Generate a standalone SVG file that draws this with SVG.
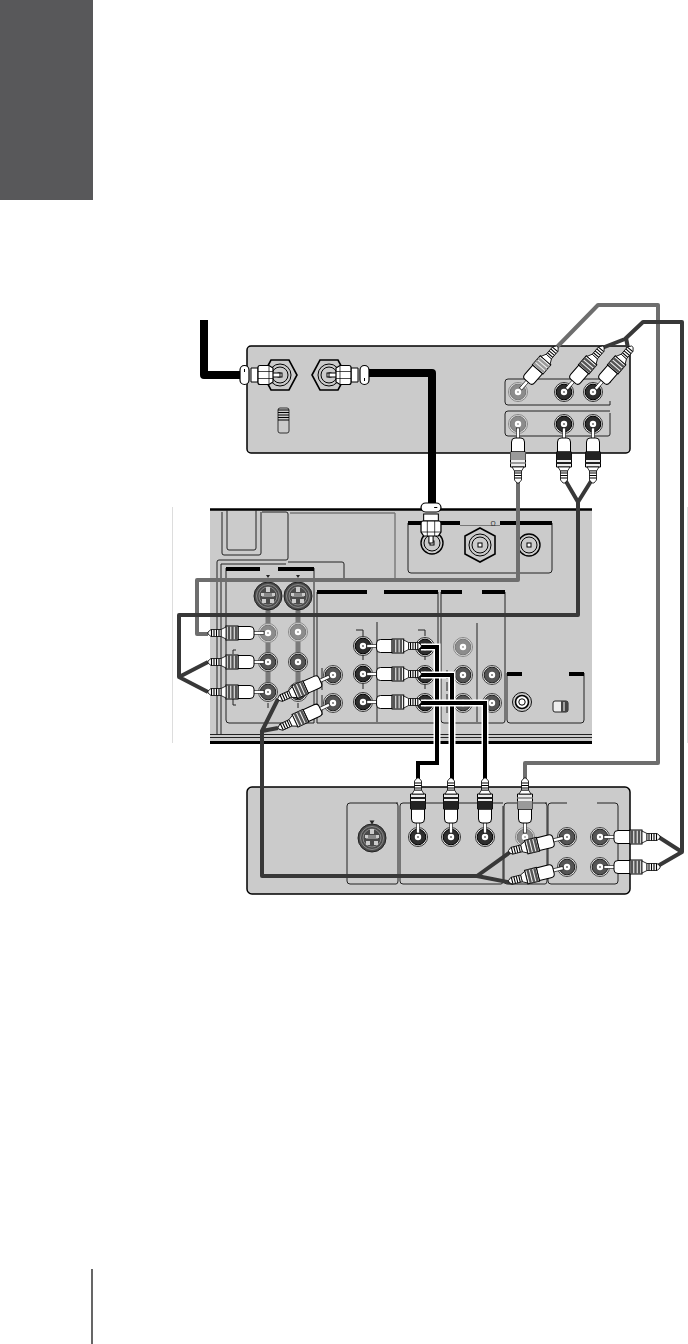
<svg xmlns="http://www.w3.org/2000/svg" width="688" height="1344" viewBox="0 0 688 1344">
<style>
.panel{fill:#cbcbcb;stroke:#000;stroke-width:1.5}
.box{fill:none;stroke:#222;stroke-width:1}
.bar{fill:none;stroke:#000;stroke-width:4}
.g{fill:none;stroke:#6e6e6e;stroke-width:4;stroke-linejoin:round}
.d{fill:none;stroke:#383838;stroke-width:4;stroke-linejoin:round}
.k{fill:none;stroke:#000;stroke-width:8;stroke-linejoin:round}
.h{fill:none;stroke:#fff;stroke-width:7;stroke-linejoin:miter}
.t{fill:none;stroke:#000;stroke-width:4;stroke-linejoin:miter}
.gbar{stroke:#7a7a7a;stroke-width:5;fill:none}
</style>
<defs>
<g id="jack"><circle r="9.5" fill="#e4e4e4" stroke="#333" stroke-width="1"/><circle r="7.8" fill="#2e2e2e" stroke="#000" stroke-width="1"/><circle r="3.2" fill="#fff"/><circle r="1.1" fill="#777"/></g>
<g id="jack-mid"><circle r="9.5" fill="#e4e4e4" stroke="#444" stroke-width="1"/><circle r="7.8" fill="#555" stroke="#222" stroke-width="1"/><circle r="3.2" fill="#fff"/><circle r="1.1" fill="#777"/></g>
<g id="jack-light"><circle r="9.5" fill="#ddd" stroke="#888" stroke-width="1"/><circle r="7.8" fill="#8c8c8c" stroke="#777" stroke-width="1"/><circle r="3.2" fill="#fff"/><circle r="1.1" fill="#aaa"/></g>
<g id="jack-white"><circle r="9.5" fill="#cbcbcb" stroke="#111" stroke-width="1"/><circle r="6.5" fill="#fff" stroke="#000" stroke-width="1.6"/><circle r="3.2" fill="#fff" stroke="#000" stroke-width="1"/></g>
<g id="svideo"><circle r="14" fill="#4a4a4a" stroke="#222" stroke-width="1"/><circle r="11.5" fill="none" stroke="#999" stroke-width=".8"/><circle r="9" fill="none" stroke="#999" stroke-width=".8"/><rect x="-6" y="-3" width="12" height="4" fill="#888"/><rect x="-7" y="-3" width="3" height="3" fill="#ccc"/><rect x="4" y="-3" width="3" height="3" fill="#ccc"/><rect x="-6" y="3" width="4" height="4" fill="#ccc"/><rect x="2" y="3" width="4" height="4" fill="#ccc"/><rect x="-2" y="-9" width="4" height="5" fill="#ccc"/></g>
<g id="coax"><circle r="11" fill="#cbcbcb" stroke="#000" stroke-width="1.4"/><circle r="8" fill="#cbcbcb" stroke="#000" stroke-width="1"/><rect x="-2" y="-2" width="4" height="4" fill="#fff" stroke="#000"/></g>
<g id="hex"><polygon points="-17,0 -9,-15 9,-15 17,0 9,15 -9,15" fill="#cbcbcb" stroke="#000" stroke-width="1.6"/><circle r="11" fill="#cbcbcb" stroke="#000" stroke-width="1"/><circle r="8" fill="#cbcbcb" stroke="#000" stroke-width="1"/><rect x="-2" y="-2" width="4" height="4" fill="#fff" stroke="#000"/></g>
<g id="plug">
<rect x="4" y="-1.6" width="11" height="3.2" fill="#fff" stroke="#000" stroke-width=".6"/>
<path d="M30,-6.500H18Q14,-6.500 14,-3V3Q14,6.500 18,6.500H30Z" fill="#fff" stroke="#000" stroke-width="1"/>
<rect x="30" y="-7" width="12" height="14" fill="#eee" stroke="#000" stroke-width="1"/>
<path d="M32,-7V7M35.500,-7V7M39,-7V7" stroke="currentColor" stroke-width="2.4" fill="none"/>
<path d="M42,-6L47,-3.500V3.500L42,6Z" fill="#fff" stroke="#000" stroke-width=".8"/>
<path d="M47,-3.500H57L60,-1V1L57,3.500H47Z" fill="#fff" stroke="#000" stroke-width=".8"/>
<path d="M49,-3.500V3.500M51.500,-3.500V3.500M54,-3.500V3.500M56.500,-3.500V3.500" stroke="#000" stroke-width="1.1" fill="none"/>
</g>
<g id="plug-solid">
<rect x="4" y="-1.6" width="11" height="3.2" fill="#fff" stroke="#000" stroke-width=".6"/>
<path d="M28,-6.500H18Q14,-6.500 14,-3V3Q14,6.500 18,6.500H28Z" fill="#fff" stroke="#000" stroke-width="1"/>
<path d="M28,-7.500H43V7.500H28Z" fill="#eee" stroke="#000" stroke-width="1"/>
<rect x="28" y="-7.500" width="8" height="15" fill="currentColor"/>
<path d="M39,-7.500V7.500" stroke="currentColor" stroke-width="2"/>
<path d="M43,-6L47,-3.500V3.500L43,6Z" fill="#fff" stroke="#000" stroke-width=".8"/>
<path d="M47,-3.500H56L59,-1V1L56,3.500H47Z" fill="#fff" stroke="#000" stroke-width=".8"/>
<path d="M49,-3.500V3.500M51.500,-3.500V3.500M54,-3.500V3.500" stroke="#000" stroke-width="1.1" fill="none"/>
</g>
<g id="coaxplug">
<rect x="0" y="-2" width="8" height="4" fill="#fff" stroke="#000" stroke-width="1"/>
<path d="M22,-7H29V7H22Z" fill="#fff" stroke="#000" stroke-width="1"/>
<path d="M7,-7L11,-9.500H20Q22,-9.500 22,-7.500V7.500Q22,9.500 20,9.500H11L7,7Z" fill="#fff" stroke="#000" stroke-width="1.2"/>
<path d="M11,-9.500V9.500M7,-3.500H22M7,3.500H22" stroke="#000" stroke-width=".7" fill="none"/>
<rect x="31" y="-9.500" width="9" height="19" rx="4.500" fill="#fff" stroke="#000" stroke-width="1.2"/>
<path d="M35.500,3V6" stroke="#000"/>
</g>
</defs>

<rect id="sidebar" x="0" y="0" width="93" height="200" fill="#58585a"/>
<path id="page-rule" d="M92,1269V1344" stroke="#000" stroke-width="1.2"/>
<path id="crop-marks" d="M172.500,507V743M687.500,507V743" stroke="#ddd" stroke-width="1"/>

<g id="top-device">
<rect class="panel" x="247" y="346" width="383" height="107" rx="4"/>
<path class="box" d="M610,379H508Q505,379 505,382V402Q505,405 508,405H610M610,411H508Q505,411 505,414V433Q505,436 508,436H608Q610,436 610,434V413"/>
<path d="M610,379V383M610,401V405" class="box"/>
<use href="#hex" x="280" y="375"/><use href="#hex" x="329" y="375"/>
<rect x="278" y="408" width="11" height="25" rx="2" fill="#cbcbcb" stroke="#333"/>
<path d="M278,410H289M278,412.500H289M278,415H289M278,417.500H289M278,420H289" stroke="#000" stroke-width="1"/>
<use href="#jack-light" x="518" y="392"/><use href="#jack" x="564" y="392"/><use href="#jack" x="593" y="392"/>
<use href="#jack-light" x="518" y="424"/><use href="#jack" x="564" y="424"/><use href="#jack" x="593" y="424"/>
</g>

<g id="av-panel">
<rect x="210" y="510" width="382" height="232" fill="#cbcbcb"/>
<path d="M210,509.500H592" stroke="#000" stroke-width="2.500"/>
<path d="M210,742.500H592" stroke="#000" stroke-width="3"/>
<path d="M210,734.500H592M210,737.500H592" stroke="#222" stroke-width="1"/>
<path class="box" d="M222,512V553Q222,555 224,555H259Q261,555 261,553V512M227,510V548Q227,550 229,550H254Q256,550 256,548V510M262,512H286Q288,512 288,514V558Q288,560 286,560H219Q217,560 217,562V735M221,564V735M221,564H286"/>
<path d="M290,513H395" stroke="#777" stroke-width="1.4"/><path d="M395,513V578" stroke="#777" stroke-width="1.4"/>
<path class="box" d="M288,562H342Q344,562 344,564V578"/>
<path class="box" d="M226,568V720Q226,723 229,723H314V568"/>
<path class="box" d="M317,592V723H436Q438,723 438,720V592"/>
<path class="box" d="M441,592V720Q441,723 444,723H503Q505,723 505,720V592"/>
<path class="box" d="M507,673V720Q507,723 510,723H581Q584,723 584,720V673"/>
<path class="box" d="M408,523V570Q408,573 411,573H549Q552,573 552,570V523"/>
<path d="M460,525.500H500" stroke="#777" stroke-width="1"/>
<path class="bar" d="M226,569H260M278,569H314M317,592H367M384,592H438M441,592H462M482,592H505M507,674H522M569,674H584M408,523H460M500,523H552"/>
<path class="box" d="M377,622V722M477,623V722"/>
<path class="box" d="M447,670V713" stroke-dasharray="9 3"/>
<path class="box" d="M356,630H363V636M418,630H425V636M363,654V660M363,683V689M425,654V660M425,683V689M233,650V654M233,650H236M233,705H236M233,697V705M268,703V708M298,703V708M322,668V690M322,695V715"/>
<path class="gbar" d="M268,596V692M298,596V692"/>
<path d="M266,575h4l-2,3zM296,575h4l-2,3z" fill="#222"/>
<text x="493" y="526" font-family="'Liberation Sans',sans-serif" font-size="7" fill="#333" text-anchor="middle">Ω</text>
<use href="#coax" transform="translate(432,543)"/><use href="#hex" transform="translate(480,545) rotate(90)"/><use href="#coax" transform="translate(529,545)"/>
<use href="#svideo" x="268" y="596"/><use href="#svideo" x="298" y="596"/>
<use href="#jack-light" x="268" y="633"/><use href="#jack-light" x="298" y="632"/>
<use href="#jack-mid" x="268" y="662"/><use href="#jack-mid" x="298" y="662"/>
<use href="#jack-mid" x="268" y="692"/><use href="#jack-mid" x="298" y="692"/>
<use href="#jack-mid" x="333" y="675"/><use href="#jack-mid" x="333" y="703"/>
<use href="#jack" x="363" y="646"/><use href="#jack" x="363" y="674"/><use href="#jack" x="363" y="702"/>
<use href="#jack" x="425" y="647"/><use href="#jack" x="425" y="675"/><use href="#jack" x="425" y="703"/>
<use href="#jack-light" x="463" y="647"/><use href="#jack-mid" x="463" y="675"/><use href="#jack-mid" x="463" y="703"/>
<use href="#jack-mid" x="492" y="675"/><use href="#jack-mid" x="492" y="703"/>
<use href="#jack-white" x="522" y="702"/>
<rect x="553" y="701" width="15" height="11" rx="2" fill="#eee" stroke="#222"/><rect x="561" y="701" width="7" height="11" fill="#444"/><path d="M564,702V711" stroke="#fff"/>
</g>

<g id="bottom-device">
<rect class="panel" x="247" y="787" width="383" height="107" rx="5"/>
<path class="box" d="M398,803H350Q347,803 347,806V881Q347,884 350,884H396Q398,884 398,881V806Q398,803 396,803"/>
<path class="box" d="M503,803H403Q400,803 400,806V881Q400,884 403,884H501Q503,884 503,881V806"/>
<path class="box" d="M547,803H507Q504,803 504,806V881Q504,884 507,884H545Q547,884 547,881V806Q547,803 545,803"/>
<path class="box" d="M567,803H551Q548,803 548,806V881Q548,884 551,884H615Q618,884 618,881V806Q618,803 615,803H597"/>
<path d="M369.500,820.500h5l-2.500,4z" fill="#222"/>
<use href="#svideo" x="372" y="838"/>
<use href="#jack" x="418" y="837"/><use href="#jack" x="451" y="837"/><use href="#jack" x="485" y="837"/>
<use href="#jack-light" x="525" y="837"/>
<use href="#jack-mid" x="567" y="837"/><use href="#jack-mid" x="567" y="867"/><use href="#jack-mid" x="600" y="837"/><use href="#jack-mid" x="600" y="867"/>
</g>

<g id="connectors">
<path class="k" d="M204,320V375H240"/>
<path class="k" d="M366,373H432V505"/>
<path class="g" d="M556,348L598,305H658V763H525V781"/>
<path class="d" d="M602,348L625,339L643,322H682V852L657,836M682,852L656,867"/>
<path class="d" d="M629,353L626,338"/>
<path class="g" d="M518,482V580H197V634H208"/>
<path class="d" d="M564,478L578,502L593,478M578,502V615H179V677L208,662M179,677L208,692"/>
<path class="d" d="M278,699L262,731L278,728M262,731V876H477L513,850M477,876L513,883"/>
<path class="h" d="M421,647H437V763H418V780"/><path class="t" d="M420,647H437V763H418V780"/>
<path class="h" d="M421,675H452V780"/><path class="t" d="M420,675H452V780"/>
<path class="h" d="M421,703H485V780"/><path class="t" d="M420,703H485V780"/>

<use href="#coaxplug" transform="translate(280,375) rotate(180)"/>
<use href="#coaxplug" transform="translate(329,375)"/>
<use href="#coaxplug" transform="translate(431,543) rotate(-90) scale(1,1.05)"/>

<g style="color:#9a9a9a">
<use href="#plug" transform="translate(518,392) rotate(-49)"/>
<use href="#plug-solid" transform="translate(518,424) rotate(90)"/>
<use href="#plug-solid" transform="translate(525,837) rotate(-90)"/>
</g>
<g style="color:#555">
<use href="#plug" transform="translate(564,392) rotate(-49)"/>
<use href="#plug" transform="translate(593,392) rotate(-49)"/>
<use href="#plug" transform="translate(268,633) rotate(180)"/>
<use href="#plug" transform="translate(268,662) rotate(180)"/>
<use href="#plug" transform="translate(268,692) rotate(180)"/>
<use href="#plug" transform="translate(333,675) rotate(156)"/>
<use href="#plug" transform="translate(333,703) rotate(155)"/>
<use href="#plug" transform="translate(363,646) scale(.97,1)"/>
<use href="#plug" transform="translate(363,674) scale(.97,1)"/>
<use href="#plug" transform="translate(363,702) scale(.97,1)"/>
<use href="#plug" transform="translate(567,837) rotate(166)"/>
<use href="#plug" transform="translate(567,867) rotate(166)"/>
<use href="#plug" transform="translate(600,837)"/>
<use href="#plug" transform="translate(600,867)"/>
</g>
<g style="color:#222">
<use href="#plug-solid" transform="translate(564,424) rotate(90)"/>
<use href="#plug-solid" transform="translate(593,424) rotate(90)"/>
<use href="#plug-solid" transform="translate(418,837) rotate(-90)"/>
<use href="#plug-solid" transform="translate(451,837) rotate(-90)"/>
<use href="#plug-solid" transform="translate(485,837) rotate(-90)"/>
</g>
</g>
</svg>
